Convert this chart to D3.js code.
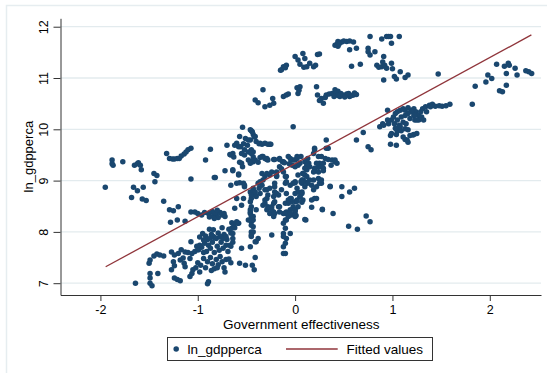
<!DOCTYPE html>
<html>
<head>
<meta charset="utf-8">
<script src="https://cdn.jsdelivr.net/npm/d3@7"></script>
<style>
  body { margin: 0; background: #fff; }
  text { font-family: "Liberation Sans", Arial, sans-serif; fill: #000; }
</style>
</head>
<body>
<svg id="chart" width="547" height="373"></svg>
<script>
// ---- data: [government effectiveness, ln_gdpperca] ----
const leftTail = [
  [-1.95,8.87],[-1.88,9.40],[-1.88,9.33],[-1.87,9.30],[-1.77,9.37],[-1.68,8.67],[-1.66,8.87],[-1.65,9.30],
  [-1.62,9.33],[-1.61,9.35],[-1.59,9.30],[-1.58,9.21],[-1.62,8.80],[-1.56,8.87],[-1.57,8.64],[-1.53,8.61],
  [-1.45,9.14],[-1.42,9.10],[-1.44,8.98],[-1.35,8.60],[-1.32,9.53],[-1.29,9.43],[-1.26,9.42],[-1.24,9.42],
  [-1.21,9.43],[-1.19,9.43],[-1.17,9.48],[-1.14,9.52],[-1.12,9.56],[-1.10,9.60],[-1.07,9.63],
  [-0.92,9.40],[-0.87,9.61],[-1.07,9.03],[-0.83,9.06]
];

const lowerLeft = [
  [-1.64,7.00],[-1.49,7.00],[-1.47,6.95],[-1.49,7.10],[-1.49,7.19],[-1.41,7.19],[-1.50,7.39],[-1.49,7.45],
  [-1.45,7.53],[-1.42,7.57],[-1.39,7.55],[-1.35,7.53],[-1.27,7.61],[-1.24,7.55],[-1.20,7.58],[-1.17,7.65],
  [-1.13,7.61],[-1.10,7.60],[-1.06,7.58],[-1.03,7.62],[-1.00,7.65],[-1.25,7.42],[-1.24,7.34],[-1.18,7.45],
  [-1.15,7.49],[-1.14,7.39],[-1.13,7.32],[-1.08,7.48],[-1.27,7.26],[-1.24,7.10],[-1.21,7.07],[-1.18,7.05],
  [-1.08,7.13],[-1.06,7.19],[-1.05,7.26],[-1.02,7.30],[-1.07,7.81],[-1.28,8.19],[-1.21,8.23],[-1.13,8.21],
  [-1.29,8.43],[-1.20,8.49],[-1.25,8.41],[-1.07,8.39],[-1.03,8.39]
];

const denseLowLeft = [
  [-1.00,8.36],[-0.96,8.33],[-0.93,8.38],[-0.89,8.36],[-0.85,8.40],[-0.84,8.31],[-0.81,8.35],[-0.79,8.28],
  [-0.77,8.38],[-0.75,8.33],[-0.73,8.36],[-0.72,8.30],[-0.80,8.42],[-0.83,8.26],[-0.88,8.29],
  [-0.98,7.90],[-0.95,7.97],[-0.92,7.92],[-0.88,8.05],[-0.86,7.95],[-0.84,8.04],[-0.82,7.88],[-0.79,7.98],
  [-0.77,7.90],[-0.75,8.08],[-0.73,7.95],[-0.70,7.85],[-0.68,8.05],[-0.66,7.98],[-0.65,8.18],[-0.63,8.14],[-0.90,7.85],
  [-1.01,7.72],[-0.99,7.65],[-0.96,7.70],[-0.93,7.78],[-0.91,7.62],[-0.89,7.74],[-0.87,7.68],[-0.85,7.80],
  [-0.83,7.60],[-0.80,7.72],[-0.78,7.64],[-0.76,7.80],[-0.74,7.68],[-0.71,7.74],[-0.69,7.62],[-0.66,7.72],
  [-0.64,7.80],[-0.94,7.60],[-1.00,7.40],[-0.97,7.35],[-0.94,7.48],[-0.92,7.30],[-0.90,7.42],[-0.87,7.50],
  [-0.85,7.38],[-0.83,7.28],[-0.81,7.46],[-0.79,7.36],[-0.77,7.52],[-0.75,7.42],[-0.73,7.30],[-0.71,7.46],
  [-0.68,7.47],[-0.66,7.40],[-0.72,7.22],[-0.89,7.03],[-0.90,6.99],[-0.86,7.25],[-0.80,7.30],[-0.98,7.22],
  [-0.57,7.39],[-0.51,7.35],[-0.44,7.35],[-0.42,7.26],[-0.41,7.50],[-0.55,7.68],[-0.46,7.71],[-0.40,7.81],
  [-0.58,8.17],[-0.62,8.08],[-0.60,8.20],[-0.98,7.74],[-0.94,7.84],[-0.87,7.88],[-0.84,7.91],[-0.81,7.87],
  [-0.77,7.91],[-0.74,7.87],[-0.71,7.91],[-0.64,7.87]
];

const middle = [
  [-0.52,9.50],[-0.48,9.40],[-0.45,9.37],[-0.43,9.56],[-0.33,9.47],[-0.29,9.43],[-0.22,9.41],[-0.16,9.43],
  [-0.12,9.37],[-0.07,9.47],[-0.04,9.40],[0.02,9.47],[0.00,9.27],[-0.03,9.30],[0.05,9.34],[0.10,9.37],
  [0.14,9.34],[0.20,9.60],[0.19,9.53],[0.24,9.47],[0.27,9.47],[0.31,9.43],[0.34,9.41],[0.38,9.40],
  [0.41,9.37],[0.43,9.34],[0.32,9.79],[0.34,9.63],[0.25,9.34],[0.29,9.24],[0.24,9.26],[0.20,9.21],
  [0.15,9.27],[0.12,9.21],[0.10,9.11],[0.08,9.01],[0.07,8.95],[0.10,8.88],[0.07,8.78],[0.05,8.69],
  [0.08,8.62],[0.17,8.91],[0.19,8.82],[0.22,8.65],[0.17,8.62],[0.19,9.01],[0.24,9.04],[0.27,8.95],
  [0.36,8.88],[0.48,8.88],[0.48,8.69],[0.56,8.78],[0.61,8.85],[0.39,8.36],[0.28,8.43],[0.11,8.23],
  [0.73,8.31],[0.77,8.20],[0.55,8.11],[0.64,8.05],
  [-0.64,9.21],[-0.58,9.11],[-0.53,8.95],[-0.52,8.88],[-0.60,8.65],[-0.46,8.78],[-0.43,8.82],[-0.41,8.72],
  [-0.45,8.65],[-0.46,8.59],[-0.45,8.49],[-0.46,8.39],[-0.43,8.30],[-0.45,8.20],[-0.43,8.10],[-0.45,8.00],
  [-0.45,7.91],[-0.41,7.81],[-0.38,7.87],[-0.37,8.85],[-0.34,8.91],[-0.33,9.01],[-0.31,9.08],[-0.34,9.14],
  [-0.36,8.98],[-0.29,8.82],[-0.28,8.72],[-0.31,8.62],[-0.33,8.52],[-0.29,8.43],[-0.26,8.36],[-0.22,8.39],
  [-0.24,8.49],[-0.21,8.59],[-0.22,8.69],[-0.19,8.75],[-0.17,8.49],[-0.16,8.39],[-0.12,8.36],[-0.10,8.23],
  [-0.09,8.39],[-0.07,8.56],[-0.05,8.65],[-0.04,8.59],[-0.02,8.49],[0.00,8.39],[0.02,8.62],[-0.05,8.43],
  [-0.04,8.33],[-0.12,8.17],[-0.10,8.07],[-0.12,7.97],[-0.09,7.87],[-0.10,7.78],[-0.12,7.71],[-0.10,7.58],
  [-0.24,7.94],[-0.22,8.30],[-0.14,8.82],[-0.10,8.95],[-0.05,8.91],[-0.02,8.95],[0.02,8.85],[-0.09,8.75],
  [0.00,8.75],[0.03,8.78],[0.03,8.49],[-0.26,9.11],[-0.19,9.17],[-0.16,9.27],[-0.12,9.17],[-0.09,9.08],
  [-0.21,8.88],[-0.53,8.65],[-0.60,8.95],[-0.55,8.52],[-0.62,8.46],[-0.65,8.07],[-0.64,7.97],[-0.67,7.74],
  [-0.24,9.17],[-0.29,9.14],[-0.38,8.95],[-0.43,8.85],[-0.41,8.78],[-0.45,8.72],[-0.40,8.69],[-0.36,8.75],
  [-0.31,8.82],[-0.26,8.85],[-0.21,8.78],[-0.17,8.72],[-0.29,8.65],[-0.31,8.56],[-0.28,8.49],[-0.24,8.43],
  [-0.21,8.36],[-0.22,8.56],[-0.16,8.49],[-0.10,8.56],[-0.07,8.62],[-0.04,8.65],[0.00,8.59],[0.00,8.43],
  [-0.10,8.36],[-0.07,8.30],[0.00,8.30],[-0.09,8.23],[-0.12,7.91],[-0.12,7.58],[-0.46,8.36],[-0.45,8.30],
  [-0.43,8.23],[-0.45,8.13],[-0.43,8.00],[-0.45,7.94],[-0.46,8.43],[-0.40,8.43],[-0.48,8.23],[-0.59,8.17],
  [0.13,9.43],[0.20,9.63],[0.22,9.34],[0.27,9.27],[0.20,9.24],[0.19,9.17],[0.24,9.17],[0.29,9.19],
  [0.12,9.30],[0.10,9.24],[0.08,9.14],[0.12,9.08],[0.15,9.01],[0.10,8.98],[0.13,8.95],[0.22,8.88],
  [0.25,8.95],[0.27,9.01],[-0.02,9.40],[0.03,9.30],[0.03,9.11],[0.00,8.98],[0.07,9.01],[0.36,8.89],
  [0.20,8.65],[0.07,8.75],[0.05,8.68],[0.07,8.58],[0.00,8.42],[0.02,8.60],[-0.05,8.37],[0.01,8.32],
  [0.10,8.24],[0.17,8.48],[0.28,8.44],[-0.05,7.97],[0.32,9.63],[0.63,9.79],[0.70,9.94],[0.75,9.66],
  [0.78,9.60],[0.37,9.30],[0.41,9.40],[0.29,9.34],[-0.02,10.05]
];

const upperMiddle = [
  [-0.54,10.04],[-0.45,9.97],[-0.43,9.90],[-0.41,9.86],[-0.46,9.79],[-0.40,9.76],[-0.36,9.73],[-0.31,9.73],
  [-0.26,9.71],[-0.57,9.86],[-0.60,9.73],[-0.62,9.69],[-0.58,9.66],[-0.64,9.53],[-0.66,9.50],[-0.55,9.53],
  [-0.52,9.60],[-0.48,9.56],[-0.45,9.60],[-0.43,9.37],[-0.46,9.37],[-0.55,9.34],[-0.70,9.69],[-0.82,9.06],
  [-0.72,9.19],[-0.64,9.19],[-0.58,9.13],[-0.66,8.91],[-0.57,8.96],[-0.52,8.91],[-0.34,9.47],[-0.31,9.43],
  [-0.28,9.40],[-0.21,9.41],[-0.13,9.37],[-0.05,9.43],[0.00,9.40],[0.06,9.47],[0.08,9.14],[0.06,8.98],
  [0.00,8.96],[-0.09,8.98],[-0.10,9.08],[-0.19,9.08],[-0.21,8.95],[-0.67,9.51],[-0.63,9.46],[-0.57,9.36],
  [-0.54,9.27],[-0.46,9.34],[-0.43,9.46],[-0.41,9.40],[-0.36,9.45],[-0.29,9.41],[-0.45,9.53],[-0.38,9.36],
  [-0.16,9.41],[-0.11,9.35],[-0.06,9.33],[0.02,9.43],[-0.19,9.10],[-0.14,9.23],[-0.49,9.69],[-0.53,9.72],
  [-0.56,9.66],[-0.44,9.95],[-0.46,9.99],[-0.51,9.82],[-0.48,9.79],[-0.42,9.85],[-0.37,9.72],[-0.34,9.71],
  [-0.28,9.71],[-0.25,9.71]
];

const topClusters = [
  [-0.33,10.77],[-0.41,10.57],[-0.38,10.52],[-0.31,10.44],[-0.26,10.47],[-0.22,10.51],[-0.23,10.60],[-0.12,10.64],
  [-0.09,10.67],[-0.07,10.69],[0.02,10.81],[0.05,10.83],[0.03,10.70],[0.04,10.76],[0.22,10.83],[0.23,10.67],
  [0.27,10.60],[0.29,10.51],[0.32,10.67],[0.35,10.69],[0.41,10.77],[0.44,10.74],[0.46,10.64],[0.49,10.67],
  [0.53,10.69],[0.56,10.64],[0.60,10.67],[0.63,10.68],[0.38,10.70],[0.42,10.70],[0.47,10.70],[0.51,10.63],
  [0.55,10.70],[0.58,10.66],[0.44,10.66],[0.40,10.64],[0.31,10.62],[0.25,10.56],[0.61,10.71],
  [-0.14,11.16],[-0.12,11.22],[-0.09,11.25],[-0.10,11.20],[-0.15,11.15],[0.00,11.42],[0.03,11.35],[0.05,11.27],
  [0.08,11.48],[0.10,11.38],[0.12,11.22],[0.15,11.29],[0.19,11.22],[0.21,11.25],[0.23,11.46],[0.25,11.47],[0.09,11.21],
  [0.41,11.64],[0.43,11.66],[0.44,11.71],[0.46,11.69],[0.48,11.70],[0.50,11.72],[0.53,11.71],[0.56,11.72],
  [0.60,11.70],[0.44,11.62],[0.45,11.66],[0.56,11.55],[0.63,11.58],[0.58,11.23],[0.67,11.27],
  [0.75,11.58],[0.75,11.51],[0.77,11.45],[0.82,11.51],[0.77,11.81],[0.89,11.76],[0.94,11.81],[0.96,11.81],
  [0.98,11.81],[1.07,11.81],[0.99,11.68],[0.91,11.42],[0.84,11.25],[0.86,11.21],[0.89,11.22],[0.92,11.25],
  [0.94,11.19],[0.90,11.31],[0.99,11.29],[0.91,10.96],[1.02,11.03],[1.08,11.12],[1.04,10.98],[1.13,11.01],
  [1.16,11.06],[1.00,11.18]
];

const rightBand = [
  [0.87,10.05],[0.91,10.08],[0.95,10.37],[0.96,10.11],[0.99,10.18],[1.01,10.24],[1.03,10.31],[1.05,10.34],
  [1.08,10.37],[1.11,10.40],[1.13,10.37],[1.16,10.42],[1.19,10.37],[1.22,10.40],[1.24,10.34],[1.27,10.27],
  [1.29,10.34],[1.31,10.40],[1.34,10.44],[1.38,10.47],[1.41,10.49],[1.44,10.45],[1.48,10.46],[1.51,10.45],
  [1.55,10.46],[1.59,10.49],[1.02,10.11],[1.05,10.18],[1.09,10.24],[1.13,10.27],[1.16,10.31],[1.18,10.21],
  [1.22,10.27],[1.23,10.18],[1.07,10.08],[1.11,10.14],[1.14,10.11],[1.04,10.01],[0.95,10.18],[0.90,10.11],
  [1.27,10.18],[1.30,10.24],[1.13,10.01],[0.98,9.88],[1.04,9.90],[1.05,9.96],[1.09,9.97],[1.11,9.85],
  [1.13,9.80],[1.16,9.75],[1.18,9.88],[1.22,9.90],[1.25,9.92],[0.98,9.71],[1.04,9.69],[0.99,9.92],
  [1.15,9.79],[1.16,9.99],[1.08,10.05],[1.20,10.34],[1.23,10.28],[1.25,10.18],[1.32,10.18],[1.35,10.34],
  [1.39,10.44],[1.03,10.02],[1.21,9.89]
];

const farRight = [
  [1.47,11.08],[1.82,10.49],[1.85,10.84],[1.96,10.92],[1.98,11.06],[2.02,10.99],[2.07,11.27],[2.15,11.23],
  [2.19,11.29],[2.17,11.09],[2.26,11.19],[2.28,11.06],[2.37,11.14],[2.43,11.09],[2.17,10.86],[2.10,10.75],
  [2.13,10.73],[2.40,11.12],[2.20,11.25]
];

// fitted regression line, endpoints at the range of the data
const fitX = [-1.946, 2.427];
const fitY = [7.32, 11.84];

const xTicks = [-2, -1, 0, 1, 2];
const yTicks = [7, 8, 9, 10, 11, 12];
const xDomain = [-2.41, 2.526];
const yDomain = [6.77, 12.164];

const seriesName = 'ln_gdpperca';
const fitName = 'Fitted values';
const xTitle = 'Government effectiveness';

// ---- drawing ----
const navy = '#1a476f';
const maroon = '#90353b';

const svg = d3.select('#chart');
const plot = { left: 60.5, right: 541, top: 18.3, bottom: 295 };

// faint outer frame of the graph region
svg.append('rect')
  .attr('x', 6.5).attr('y', 5.5)
  .attr('width', 600).attr('height', 400)
  .attr('fill', 'none')
  .attr('stroke', '#e6edf0')
  .attr('stroke-width', 1.5);

const x = d3.scaleLinear().domain(xDomain).range([plot.left, plot.right]);
const y = d3.scaleLinear().domain(yDomain).range([plot.bottom, plot.top]);

// gridlines
svg.append('g')
  .selectAll('line')
  .data(yTicks)
  .join('line')
  .attr('x1', plot.left).attr('x2', plot.right)
  .attr('y1', d => y(d)).attr('y2', d => y(d))
  .attr('stroke', '#e3ebee')
  .attr('stroke-width', 1.3);

const points = [].concat(leftTail, lowerLeft, denseLowLeft, middle, upperMiddle, topClusters, rightBand, farRight);

svg.append('g')
  .selectAll('circle')
  .data(points)
  .join('circle')
  .attr('cx', d => x(d[0]))
  .attr('cy', d => y(d[1]))
  .attr('r', 2.75)
  .attr('fill', navy);

const fitData = fitX.map((v, i) => [v, fitY[i]]);
svg.append('path')
  .datum(fitData)
  .attr('d', d3.line().x(d => x(d[0])).y(d => y(d[1])))
  .attr('fill', 'none')
  .attr('stroke', maroon)
  .attr('stroke-width', 1.3);

// axes
const xAxis = svg.append('g')
  .attr('transform', `translate(0,${plot.bottom})`)
  .call(d3.axisBottom(x).tickValues(xTicks).tickSize(6).tickSizeOuter(0).tickPadding(4.5)
    .tickFormat(d3.format('d')));
xAxis.selectAll('text').style('font-size', '12.5px').text(d => String(d).replace('\u2212', '-'));
xAxis.selectAll('path, line').attr('stroke', '#333');

const yAxis = svg.append('g')
  .attr('transform', `translate(${plot.left},0)`)
  .call(d3.axisLeft(y).tickValues(yTicks).tickSize(7).tickSizeOuter(0).tickFormat(d3.format('d')));
yAxis.selectAll('path, line').attr('stroke', '#333');
yAxis.selectAll('text')
  .attr('x', 0).attr('y', -12.7).attr('dy', 0)
  .attr('text-anchor', 'middle')
  .attr('transform', 'rotate(-90)')
  .style('font-size', '12.5px');

// axis titles
svg.append('text')
  .attr('x', (plot.left + plot.right) / 2 + 0.5)
  .attr('y', 328.5)
  .attr('text-anchor', 'middle')
  .style('font-size', '13.5px')
  .text(xTitle);

svg.append('text')
  .attr('transform', `translate(33.2,${(plot.top + plot.bottom) / 2}) rotate(-90)`)
  .attr('text-anchor', 'middle')
  .style('font-size', '13px')
  .text(seriesName);

// legend
const legend = svg.append('g');
legend.append('rect')
  .attr('x', 167.5).attr('y', 337.5)
  .attr('width', 265).attr('height', 23)
  .attr('fill', '#fff')
  .attr('stroke', '#333');
legend.append('circle')
  .attr('cx', 176.2).attr('cy', 349)
  .attr('r', 2.75)
  .attr('fill', navy);
legend.append('text')
  .attr('x', 187.4).attr('y', 353.5)
  .style('font-size', '13.5px')
  .text(seriesName);
legend.append('line')
  .attr('x1', 286).attr('x2', 337.7)
  .attr('y1', 349).attr('y2', 349)
  .attr('stroke', maroon)
  .attr('stroke-width', 1.3);
legend.append('text')
  .attr('x', 346.5).attr('y', 353.5)
  .style('font-size', '13.5px')
  .text(fitName);
</script>
</body>
</html>
